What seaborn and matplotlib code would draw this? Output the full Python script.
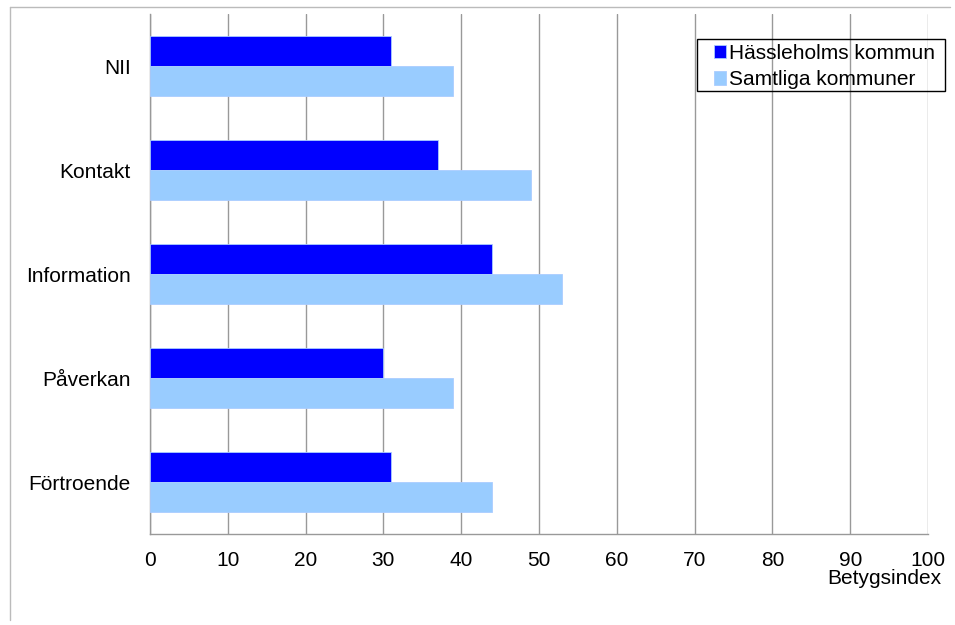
import pandas as pd
import seaborn as sns
import matplotlib.pyplot as plt
from matplotlib.lines import Line2D
from matplotlib.patches import Rectangle

categories = ['NII', 'Kontakt', 'Information', 'Påverkan', 'Förtroende']
hassleholm = [31, 37, 44, 30, 31]
samtliga = [39, 49, 53, 39, 44]
series_names = ['Hässleholms kommun', 'Samtliga kommuner']
xticks = [0, 10, 20, 30, 40, 50, 60, 70, 80, 90, 100]

data = pd.DataFrame({
    'kategori': categories * 2,
    'serie': [series_names[0]] * len(categories) + [series_names[1]] * len(categories),
    'varde': hassleholm + samtliga,
})

sns.set_style('white')
plt.rcParams['font.family'] = ['Liberation Sans', 'DejaVu Sans']
plt.rcParams['text.color'] = 'black'
plt.rcParams['xtick.color'] = 'black'
plt.rcParams['ytick.color'] = 'black'

fig = plt.figure(figsize=(9.55, 6.25), dpi=100)
ax = fig.add_axes([150 / 955, 1 - 534 / 625, 778 / 955, 520 / 625])

sns.barplot(data=data, y='kategori', x='varde', hue='serie', orient='h',
            palette=['#0000FF', '#99CCFF'], width=0.58, gap=0, ax=ax,
            linewidth=0.6, edgecolor='#aaccff', saturation=1, zorder=3)

ax.set_xlim(0, 100)
ax.set_xticks(xticks)
ax.grid(axis='x', color='#999999', linewidth=1, zorder=0)
ax.set_axisbelow(True)
for side in ['top', 'right']:
    ax.spines[side].set_visible(False)
for side in ['left', 'bottom']:
    ax.spines[side].set_color('#999999')
    ax.spines[side].set_linewidth(1)
ax.tick_params(axis='x', length=0, pad=12, labelsize=15, labelcolor='black')
ax.tick_params(axis='y', length=0, pad=14, labelsize=15, labelcolor='black')
ax.set_xlabel('')
ax.set_ylabel('')

fig.text(941 / 955, 1 - 578 / 625, 'Betygsindex', ha='right', va='center',
         fontsize=15, color='black')

ax.get_legend().remove()
handles, labels = ax.get_legend_handles_labels()
leg = fig.legend(handles, labels, loc='upper left',
                 bbox_to_anchor=(710 / 955, 1 - 40 / 625),
                 frameon=False, fontsize=15, handlelength=0.55, handleheight=0.6,
                 handletextpad=0.15, borderpad=0.2, labelspacing=0.35,
                 borderaxespad=0)
fig.add_artist(Rectangle((697 / 955, 1 - 91 / 625), 248 / 955, 52 / 625,
                         transform=fig.transFigure, fill=False,
                         edgecolor='black', linewidth=1))

# outer chart frame lines
fig.add_artist(Line2D([10 / 955, 10 / 955], [1 - 7 / 625, 1 - 620 / 625], color='#bbbbbb', lw=1))
fig.add_artist(Line2D([10 / 955, 950 / 955], [1 - 7 / 625, 1 - 7 / 625], color='#bbbbbb', lw=1))

fig.savefig('out.png', dpi=100)
